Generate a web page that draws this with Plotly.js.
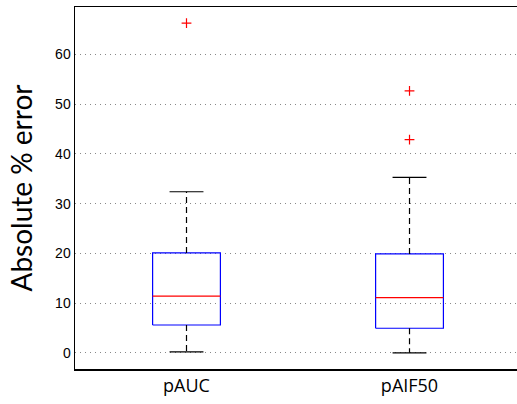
<!DOCTYPE html>
<html><head><meta charset="utf-8">
<script src="https://cdn.plot.ly/plotly-3.0.1.min.js"></script>
<style>html,body{margin:0;padding:0;overflow:hidden;background:#fff}</style>
</head><body><div id="chart" style="width:517px;height:404px"></div>
<script>
// Data
const categories = ['pAUC', 'pAIF50'];
const lowerWhisker = [0.2, 0.0];
const q1 = [5.6, 4.95];
const median = [11.4, 11.1];
const q3 = [20.1, 19.9];
const upperWhisker = [32.4, 35.3];
const outliers = [[66.3], [52.7, 42.9]];
const yTicks = [0, 10, 20, 30, 40, 50, 60];

const boxHalf = 0.152;
const capHalf = 0.076;
const traces = [];
categories.forEach((c, i) => {
  const x = i + 1;
  traces.push({type:'scatter', mode:'lines', x:[x-boxHalf,x+boxHalf,x+boxHalf,x-boxHalf,x-boxHalf],
    y:[q1[i],q1[i],q3[i],q3[i],q1[i]], line:{color:'#0000ff', width:1.2}, hoverinfo:'skip'});
  traces.push({type:'scatter', mode:'lines', x:[x-boxHalf,x+boxHalf], y:[median[i],median[i]],
    line:{color:'#ff0000', width:1.2}, hoverinfo:'skip'});
  traces.push({type:'scatter', mode:'lines', x:[x,x,null,x,x], y:[q3[i],upperWhisker[i],null,q1[i],lowerWhisker[i]],
    line:{color:'#000', width:1.2, dash:'6px,4px'}, hoverinfo:'skip'});
  traces.push({type:'scatter', mode:'lines', x:[x-capHalf,x+capHalf,null,x-capHalf,x+capHalf],
    y:[upperWhisker[i],upperWhisker[i],null,lowerWhisker[i],lowerWhisker[i]],
    line:{color:'#000', width:1.2}, hoverinfo:'skip'});
  traces.push({type:'scatter', mode:'markers', x:outliers[i].map(()=>x), y:outliers[i],
    marker:{symbol:'cross-thin-open', size:7, color:'#ff0000', line:{color:'#ff0000', width:1.2}}, hoverinfo:'skip'});
});

const layout = {
  width:517, height:404,
  margin:{l:75, r:0, t:7, b:35},
  showlegend:false,
  paper_bgcolor:'#fff', plot_bgcolor:'#fff',
  xaxis:{range:[0.5, 2.482], tickvals:[1,2], ticktext:categories, showgrid:false, zeroline:false,
    showline:true, mirror:true, linecolor:'#000', linewidth:1.5, ticks:'',
    tickfont:{family:'"Open Sans", Lato, sans-serif', size:18, color:'#000'}},
  yaxis:{range:[-3.25, 69.56], tickvals:yTicks, ticktext:yTicks.map(String), showgrid:true,
    gridcolor:'#888', griddash:'1px,4px', gridwidth:1, zeroline:false,
    showline:true, mirror:false, linecolor:'#000', linewidth:1.5, ticks:'',
    tickfont:{family:'"Liberation Sans", Arial, sans-serif', size:14, color:'#000'},
    title:{text:'Absolute % error', font:{family:'Lato, "Open Sans", sans-serif', size:28, color:'#000'}, standoff:14}}
};
Plotly.newPlot('chart', traces, layout, {displayModeBar:false, staticPlot:true});
</script></body></html>
